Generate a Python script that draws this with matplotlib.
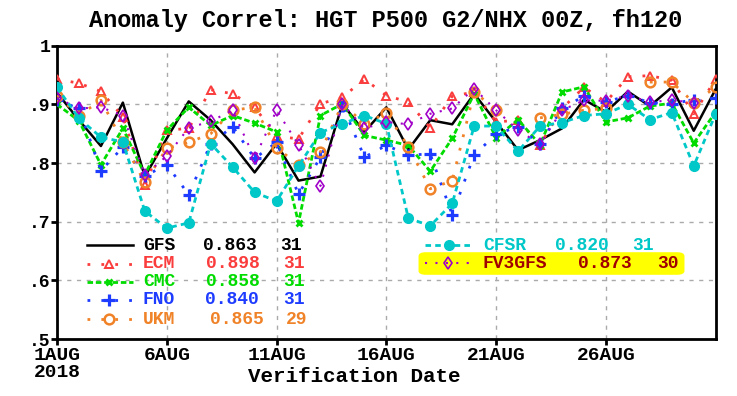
import matplotlib
matplotlib.use('Agg')
import matplotlib.pyplot as plt
import numpy as np
from matplotlib.lines import Line2D
from matplotlib.patches import FancyBboxPatch

nan = np.nan
days = np.arange(1, 32)

# anomaly correlation, HGT P500 NHX, fh120, Aug 2018
gfs = [0.920, 0.873, 0.829, 0.903, 0.777, 0.842, 0.905, 0.873, 0.832, 0.784,
       0.833, 0.770, 0.777, 0.901, 0.853, 0.895, 0.823, 0.873, 0.866, 0.918,
       0.870, 0.822, 0.839, 0.859, 0.908, 0.887, 0.922, 0.897, 0.929, 0.855, 0.926]
ecm = [0.943, 0.936, 0.922, 0.879, 0.762, 0.856, 0.859, 0.925, 0.918, 0.895,
       0.846, 0.841, 0.901, 0.912, 0.943, 0.915, 0.904, 0.860, 0.914, 0.921,
       0.870, 0.873, 0.831, 0.893, 0.929, 0.904, 0.947, 0.949, 0.941, 0.884, 0.943]
cmc = [0.900, 0.872, 0.797, 0.859, 0.780, 0.856, 0.895, 0.864, 0.881, 0.868,
       0.853, 0.698, 0.881, 0.901, 0.847, 0.839, 0.830, 0.786, 0.842, 0.918,
       0.843, 0.874, 0.831, 0.921, 0.930, 0.870, 0.877, 0.897, 0.902, 0.834, 0.887]
fno = [0.907, 0.893, 0.787, 0.827, 0.778, 0.797, 0.746, 0.833, 0.862, 0.808,
       0.835, 0.747, 0.810, 0.898, 0.810, 0.830, 0.814, 0.815, 0.712, 0.814,
       0.849, 0.862, 0.833, 0.893, 0.914, 0.904, 0.915, 0.903, 0.901, 0.908, 0.910]
ukm = [0.915, 0.881, 0.907, 0.836, 0.767, 0.825, 0.835, 0.850, 0.890, 0.895,
       0.826, 0.797, 0.819, 0.901, 0.867, 0.885, 0.828, 0.756, 0.770, 0.921,
       0.891, nan, 0.877, 0.883, 0.890, 0.893, nan, 0.938, 0.938, 0.903, 0.929]
cfsr = [0.929, 0.876, 0.844, 0.836, 0.718, 0.689, 0.698, 0.833, 0.793, 0.750,
        0.735, 0.795, 0.852, 0.867, 0.881, 0.867, 0.706, 0.693, 0.731, 0.863,
        0.863, 0.820, 0.863, 0.869, 0.881, 0.884, 0.900, 0.874, 0.886, 0.795, 0.884]
fv3gfs = [0.911, 0.893, 0.895, 0.881, 0.780, 0.812, 0.860, 0.871, 0.890, 0.808,
          0.890, 0.831, 0.761, 0.901, 0.859, 0.870, 0.866, 0.884, 0.893, 0.927,
          0.890, 0.856, 0.832, 0.890, 0.907, 0.906, 0.915, 0.904, 0.907, 0.903, nan]

models = ['GFS', 'ECM', 'CMC', 'FNO', 'UKM', 'CFSR', 'FV3GFS']
means = ['0.863', '0.898', '0.858', '0.840', '0.865', '0.820', '0.873']
counts = ['31', '31', '31', '31', '29', '31', '30']
series = [gfs, ecm, cmc, fno, ukm, cfsr, fv3gfs]

tick_days = [1, 6, 11, 16, 21, 26]
tick_labels = ['1AUG\n2018', '6AUG', '11AUG', '16AUG', '21AUG', '26AUG']

RED = '#fa3c3c'
GREEN = '#00dc00'
BLUE = '#1e3cff'
ORANGE = '#f08228'
CYAN = '#00c8c8'
PURPLE = '#a000c8'
DKRED = '#a00000'

styles = [
    dict(color='black', ls='-', lw=1.8, marker=None),
    dict(color=RED, ls=(0, (1, 4)), lw=2, marker='^', mfc='none', mec=RED, ms=6, mew=1.4),
    dict(color=GREEN, ls=(0, (2, 1)), lw=2, marker='x', mec=GREEN, ms=5, mew=2),
    dict(color=BLUE, ls=(0, (1, 4)), lw=2, marker='+', mec=BLUE, ms=8, mew=2.3),
    dict(color=ORANGE, ls=(0, (1, 4)), lw=2, marker='o', mfc='none', mec=ORANGE, ms=7, mew=1.8),
    dict(color=CYAN, ls=(0, (2, 1.5)), lw=2, marker='o', mfc=CYAN, mec=CYAN, ms=7),
    dict(color=PURPLE, ls=(0, (1, 4)), lw=1.5, marker='d', mfc='none', mec=PURPLE, ms=6, mew=1.2),
]
text_colors = ['black', RED, GREEN, BLUE, ORANGE, CYAN, DKRED]

FONT = 'Liberation Mono'
W, H = 737, 396

fig = plt.figure(figsize=(W / 100, H / 100), dpi=100)
ax = fig.add_axes([57 / W, 1 - 339 / H, (715.7 - 57) / W, (339 - 45.7) / H])

for i in range(len(series)):
    ax.plot(days, series[i], zorder=3 + i, **styles[i])

ax.set_xlim(1, 31)
ax.set_ylim(0.5, 1.0)
ax.set_yticks([0.5, 0.6, 0.7, 0.8, 0.9, 1.0])
ax.set_yticklabels(['.5', '.6', '.7', '.8', '.9', '1'], fontfamily=FONT, fontweight='bold', fontsize=13,
                   va='center_baseline')
ax.set_xticks(tick_days)
ax.set_xticklabels(tick_labels, fontfamily=FONT, fontweight='bold', fontsize=14, linespacing=0.95)
ax.tick_params(axis='both', direction='out', length=4, width=2, pad=1)
ax.tick_params(axis='x', pad=2)
ax.grid(color='#aaaaaa', linestyle=(0, (3, 4)), linewidth=1)
for s in ax.spines.values():
    s.set_linewidth(2)

fig.text(354 / W, 1 - 377 / H, 'Verification Date', ha='center', va='center',
         fontfamily=FONT, fontweight='bold', fontsize=15)
fig.text(386 / W, 1 - 20 / H, 'Anomaly Correl: HGT P500 G2/NHX 00Z, fh120', ha='center', va='center',
         fontfamily=FONT, fontweight='bold', fontsize=17)


def px(x, y):
    return x / W, 1 - y / H


# yellow highlight behind the FV3GFS row
x0, y0 = px(420, 274)
x1, y1 = px(683, 253)
fig.add_artist(FancyBboxPatch((x0, y0), x1 - x0, y1 - y0, boxstyle='round,pad=0.002,rounding_size=0.01',
                              transform=fig.transFigure, facecolor='#ffff00', edgecolor='none', zorder=20))

# legend block
rows = [
    # (line x0, line x1, marker x, y, name x, mean x, count x)
    (87, 133, 109, 245, 143, 203, 280),
    (87, 133, 109, 264, 143, 206, 283),
    (87, 133, 109, 282, 143, 206, 283),
    (87, 133, 109, 300, 143, 205, 283),
    (87, 133, 109, 319, 143, 210, 286),
    (425, 473, 449, 245, 483, 555, 632),
    (425, 473, 448, 263, 483, 578, 657),
]
for i, (lx0, lx1, mx, y, nx, vx, cx) in enumerate(rows):
    st = dict(styles[i])
    marker = st.pop('marker')
    mk = {k: st.pop(k) for k in ['mfc', 'mec', 'ms', 'mew'] if k in st}
    a, b = px(lx0, y)
    c, _ = px(lx1, y)
    fig.add_artist(Line2D([a, c], [b, b], transform=fig.transFigure, zorder=21, **st))
    if marker:
        m, _ = px(mx, y)
        fig.add_artist(Line2D([m], [b], transform=fig.transFigure, marker=marker, ls='none',
                              color=st['color'], zorder=22, **mk))
    for xx, s in [(nx, models[i]), (vx, means[i]), (cx, counts[i])]:
        fig.text(xx / W, b, s, ha='left', va='center', color=text_colors[i], fontfamily=FONT,
                 fontweight='bold', fontsize=13, zorder=23)

fig.savefig('out.png', dpi=100)
